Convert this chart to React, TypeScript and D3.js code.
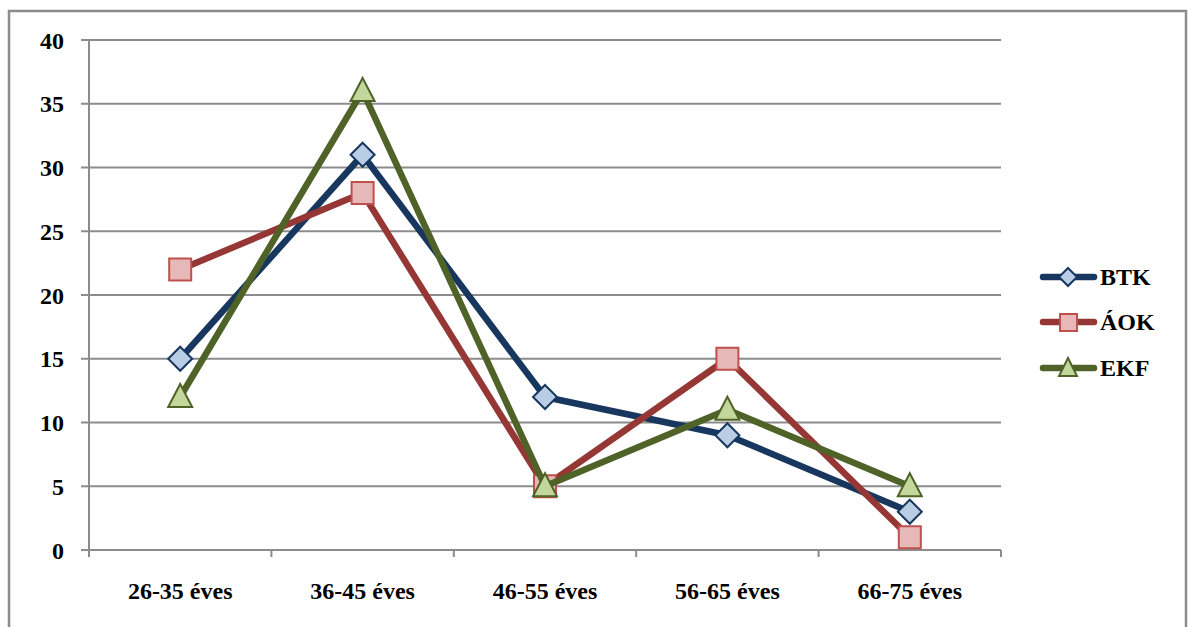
import React from "react";
import * as d3 from "d3";

const categories = ["26-35 éves", "36-45 éves", "46-55 éves", "56-65 éves", "66-75 éves"];
const btkValues = [15, 31, 12, 9, 3];
const aokValues = [22, 28, 5, 15, 1];
const ekfValues = [12, 36, 5, 11, 5];
const yTicks = [0, 5, 10, 15, 20, 25, 30, 35, 40];

type Shape = "diamond" | "square" | "triangle";
const series: { name: string; values: number[]; line: string; fill: string; stroke: string; shape: Shape }[] = [
  { name: "BTK", values: btkValues, line: "#17375E", fill: "#B9CDE5", stroke: "#17375E", shape: "diamond" },
  { name: "ÁOK", values: aokValues, line: "#953735", fill: "#E6B9B8", stroke: "#C0504D", shape: "square" },
  { name: "EKF", values: ekfValues, line: "#4F6228", fill: "#C3D69B", stroke: "#4F6228", shape: "triangle" },
];

const W = 1188;
const H = 627;
const left = 89;
const right = 1001;
const top = 40;
const bottom = 550;
const textStyle: React.CSSProperties = {
  fontFamily: "'Liberation Serif', 'DejaVu Serif', serif",
  fontWeight: 700,
  fontSize: "24px",
};
const grid = "#8C8C8C";

function Marker({ shape, x, y, fill, stroke }: { shape: Shape; x: number; y: number; fill: string; stroke: string }) {
  if (shape === "square") {
    return <rect x={x - 11} y={y - 11} width={22} height={22} fill={fill} stroke={stroke} strokeWidth={2} />;
  }
  if (shape === "diamond") {
    const r = 12;
    return (
      <path d={`M${x},${y - r}L${x + r},${y}L${x},${y + r}L${x - r},${y}Z`} fill={fill} stroke={stroke} strokeWidth={2} />
    );
  }
  const hw = 12;
  return (
    <path d={`M${x},${y - 13}L${x + hw},${y + 10}L${x - hw},${y + 10}Z`} fill={fill} stroke={stroke} strokeWidth={2} />
  );
}

function LegendMarker({ shape, x, y, fill, stroke }: { shape: Shape; x: number; y: number; fill: string; stroke: string }) {
  if (shape === "square") {
    return <rect x={x - 8} y={y - 8} width={17} height={17} fill={fill} stroke={stroke} strokeWidth={2} />;
  }
  if (shape === "diamond") {
    return <path d={`M${x},${y - 9}L${x + 9},${y}L${x},${y + 9}L${x - 9},${y}Z`} fill={fill} stroke={stroke} strokeWidth={2} />;
  }
  return <path d={`M${x},${y - 10}L${x + 9},${y + 8}L${x - 9},${y + 8}Z`} fill={fill} stroke={stroke} strokeWidth={2} />;
}

export default function App() {
  const x = d3.scaleBand<string>().domain(categories).range([left, right]);
  const y = d3.scaleLinear().domain([0, 40]).range([bottom, top]);
  const cx = (c: string) => (x(c) as number) + x.bandwidth() / 2;
  const line = d3
    .line<number>()
    .x((_, i) => cx(categories[i]))
    .y((v) => y(v));

  const legendY = [277, 322, 368];

  return (
    <svg width={W} height={H} style={{ position: "absolute", left: 0, top: 0 }}>
      <rect x={0} y={0} width={W} height={H} fill="#fff" />
      <path d={`M9,${H + 5}L9,11L1186,11L1186,${H + 5}`} fill="none" stroke="#8C8C8C" strokeWidth={2.5} />

      {yTicks.map((t) => (
        <g key={t}>
          <line x1={left - 8} x2={right} y1={y(t)} y2={y(t)} stroke={grid} strokeWidth={2} />
          <text x={64} y={y(t) + 8.5} textAnchor="end" style={textStyle}>
            {t}
          </text>
        </g>
      ))}
      <line x1={left} x2={left} y1={top} y2={bottom + 7} stroke={grid} strokeWidth={2} />
      {categories.map((c, i) => (
        <line key={"t" + i} x1={(x(c) as number) + x.bandwidth()} x2={(x(c) as number) + x.bandwidth()} y1={bottom} y2={bottom + 7} stroke={grid} strokeWidth={2} />
      ))}
      {categories.map((c) => (
        <text key={c} x={cx(c)} y={599} textAnchor="middle" style={textStyle}>
          {c}
        </text>
      ))}

      {series.map((s) => (
        <g key={s.name}>
          <path d={line(s.values) || ""} fill="none" stroke={s.line} strokeWidth={6.5} strokeLinejoin="round" />
          {s.values.map((v, i) => (
            <Marker key={i} shape={s.shape} x={cx(categories[i])} y={y(v)} fill={s.fill} stroke={s.stroke} />
          ))}
        </g>
      ))}

      {series.map((s, i) => (
        <g key={"lg" + s.name}>
          <line x1={1043} x2={1094} y1={legendY[i]} y2={legendY[i]} stroke={s.line} strokeWidth={6.5} strokeLinecap="round" />
          <LegendMarker shape={s.shape} x={1068} y={legendY[i]} fill={s.fill} stroke={s.stroke} />
          <text x={1100} y={legendY[i] + 8} style={textStyle}>
            {s.name}
          </text>
        </g>
      ))}
    </svg>
  );
}
